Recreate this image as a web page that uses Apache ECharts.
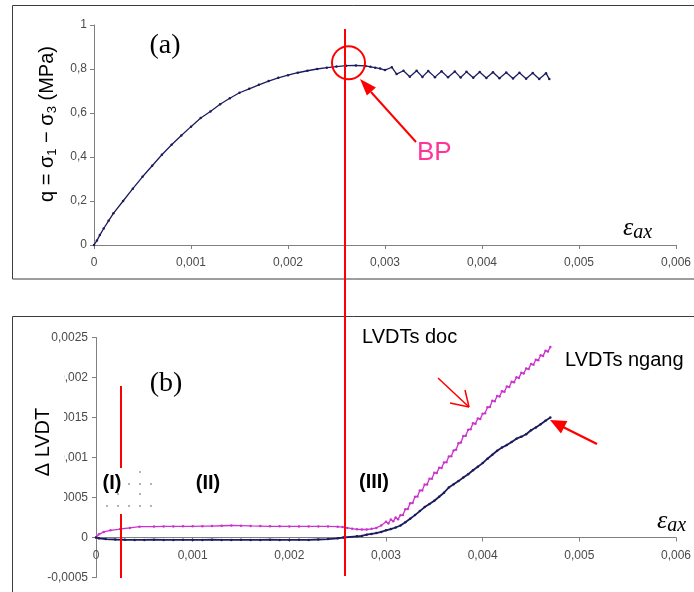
<!DOCTYPE html>
<html><head><meta charset="utf-8">
<script src="https://cdn.jsdelivr.net/npm/echarts@6/dist/echarts.min.js"></script>
<style>html,body{margin:0;padding:0;background:#fff}#c{width:694px;height:592px}</style>
</head><body><div id="c"></div>
<script>
// ---- data (a): deviatoric stress vs axial strain ----
const strainA = [0, 0.00003, 0.00006, 0.0001, 0.00015, 0.0002, 0.0003, 0.0004, 0.0005, 0.0006, 0.0007, 0.0008, 0.0009, 0.001, 0.0011, 0.0012, 0.0013, 0.0014, 0.0015, 0.0016, 0.0017, 0.0018, 0.0019, 0.002, 0.0021, 0.0022, 0.0023, 0.0024, 0.0025, 0.0026, 0.0027, 0.0028, 0.00285, 0.0029, 0.00295, 0.003, 0.00307, 0.00312, 0.00319, 0.003256, 0.003326, 0.003386, 0.003446, 0.003515, 0.003583, 0.00365, 0.00372, 0.00378, 0.00384, 0.00391, 0.003976, 0.004045, 0.004113, 0.00418, 0.00425, 0.00432, 0.004386, 0.004455, 0.004523, 0.00459, 0.00466, 0.004694];
const qA = [0, 0.02, 0.045, 0.075, 0.11, 0.144, 0.2, 0.256, 0.31, 0.36, 0.41, 0.456, 0.498, 0.538, 0.577, 0.607, 0.64, 0.667, 0.692, 0.71, 0.728, 0.745, 0.76, 0.772, 0.783, 0.792, 0.8, 0.806, 0.811, 0.815, 0.816, 0.814, 0.81, 0.806, 0.802, 0.795, 0.808, 0.777, 0.792, 0.765, 0.792, 0.764, 0.791, 0.763, 0.79, 0.762, 0.789, 0.761, 0.787, 0.76, 0.786, 0.759, 0.785, 0.758, 0.784, 0.757, 0.783, 0.756, 0.782, 0.755, 0.781, 0.754];

// ---- data (b): LVDT differences ----
const strainDoc = [0, 0.00003, 0.00008, 0.00015, 0.00025, 0.00035, 0.00045, 0.0006, 0.0007, 0.0008, 0.0009, 0.001, 0.0011, 0.0012, 0.0013, 0.0014, 0.0015, 0.0016, 0.0017, 0.0018, 0.0019, 0.002, 0.0021, 0.0022, 0.0023, 0.0024, 0.0025, 0.00255, 0.0026, 0.00265, 0.0027, 0.00275, 0.0028, 0.00285, 0.0029, 0.00295,
  0.003, 0.003025, 0.00305, 0.003075, 0.0031, 0.003125, 0.00315, 0.003175, 0.0032, 0.003225, 0.00325, 0.003275, 0.0033, 0.003325, 0.00335, 0.003375, 0.0034, 0.003425, 0.00345, 0.003475, 0.0035, 0.003525, 0.00355, 0.003575, 0.0036, 0.003625, 0.00365, 0.003675, 0.0037, 0.003725, 0.00375, 0.003775, 0.0038, 0.003825, 0.00385, 0.003875, 0.0039, 0.003925, 0.00395, 0.003975, 0.004, 0.004025, 0.00405, 0.004075, 0.0041, 0.004125, 0.00415, 0.004175, 0.0042, 0.004225, 0.00425, 0.004275, 0.0043, 0.004325, 0.00435, 0.004375, 0.0044, 0.004425, 0.00445, 0.004475, 0.0045, 0.004525, 0.00455, 0.004575, 0.0046, 0.004625, 0.00465, 0.004675, 0.0047];
const lvdtDoc = [0, 0.00004, 0.00007, 0.00009, 0.000106, 0.00012, 0.000135, 0.000137, 0.000138, 0.000138, 0.00014, 0.00014, 0.000142, 0.000143, 0.000147, 0.00015, 0.000148, 0.000145, 0.000143, 0.00014, 0.00014, 0.000138, 0.000138, 0.000138, 0.000138, 0.000138, 0.000135, 0.00013, 0.00012, 0.00011, 0.000102, 0.0001, 0.0001, 0.000108, 0.00012, 0.00015,
  0.000198, 0.000175, 0.000225, 0.000202, 0.000251, 0.000229, 0.000278, 0.00028, 0.000353, 0.000355, 0.000428, 0.000432, 0.000508, 0.000512, 0.000588, 0.000589, 0.000661, 0.000662, 0.000735, 0.000735, 0.000808, 0.000805, 0.000873, 0.00087, 0.000938, 0.00094, 0.001013, 0.001015, 0.001088, 0.001097, 0.001178, 0.001187, 0.001268, 0.001272, 0.001348, 0.001352, 0.001428, 0.001422, 0.001488, 0.001482, 0.001548, 0.001552, 0.001628, 0.001632, 0.001708, 0.001702, 0.001768, 0.001762, 0.001828, 0.001822, 0.001888, 0.001882, 0.001948, 0.00194, 0.002003, 0.001995, 0.002058, 0.00205, 0.002113, 0.002105, 0.002168, 0.00216, 0.002223, 0.002215, 0.002278, 0.00227, 0.002333, 0.002325, 0.00238];
const strainNgang = [0, 0.00003, 0.0001, 0.0002, 0.0003, 0.0004, 0.0005, 0.0006, 0.0007, 0.0008, 0.0009, 0.001, 0.0011, 0.0012, 0.0013, 0.0014, 0.0015, 0.0016, 0.0017, 0.0018, 0.0019, 0.002, 0.0021, 0.0022, 0.0023, 0.0024, 0.0025, 0.00256, 0.0027, 0.00275, 0.0028, 0.00285, 0.0029, 0.00295, 0.003, 0.00305, 0.0031, 0.00315, 0.0032, 0.00325, 0.0033, 0.00335, 0.0034, 0.00345, 0.0035, 0.00355, 0.0036, 0.00365, 0.0037, 0.00375, 0.0038, 0.00385, 0.0039, 0.00395, 0.004, 0.00405, 0.0041, 0.00415, 0.0042, 0.00425, 0.0043, 0.00435, 0.0044, 0.00445, 0.0045, 0.00455, 0.0046, 0.00465, 0.0047];
const lvdtNgang = [0, -0.00001, -0.00002, -0.000025, -0.000028, -0.00003, -0.00003, -0.000028, -0.00003, -0.00003, -0.000029, -0.00003, -0.00003, -0.000028, -0.00003, -0.00003, -0.000029, -0.00003, -0.00003, -0.000028, -0.00003, -0.00003, -0.000029, -0.00003, -0.000025, -0.00002, -0.00001, 0, 0.000015, 0.00002, 0.000035, 0.000045, 0.000055, 0.00007, 0.00009, 0.000105, 0.000125, 0.00015, 0.00019, 0.000235, 0.00028, 0.00033, 0.00038, 0.00042, 0.00046, 0.00051, 0.00056, 0.000625, 0.000665, 0.000705, 0.00075, 0.00079, 0.00084, 0.000885, 0.00093, 0.000985, 0.001035, 0.001085, 0.001125, 0.001155, 0.001195, 0.001235, 0.00126, 0.00129, 0.00134, 0.001375, 0.001415, 0.00146, 0.0015];

// ---- axis ranges / ticks ----
const xTicksA = {min: 0, max: 0.006, interval: 0.001};
const yTicksA = {min: 0, max: 1, interval: 0.2};
const xTicksB = {min: 0, max: 0.006, interval: 0.001};
const yTicksB = {min: -0.0005, max: 0.0025, interval: 0.0005};

function pairs(xs, ys) { const n = Math.min(xs.length, ys.length); const out = []; for (let i = 0; i < n; i++) out.push([xs[i], ys[i]]); return out; }
function fmt(v) { return String(+Number(v).toFixed(6)).replace('.', ','); }

const NAVY = '#1c1c5e', PINK = '#cc33cc', RED = '#ff0000';
const labelStyle = {color: '#4a4a4a', fontSize: 12, fontFamily: 'Liberation Sans, Arial, sans-serif', formatter: fmt};
const axisTick = {show: true, inside: false, length: 4, lineStyle: {color: '#808080'}};

function axisX(idx, t, off) {
  return {type: 'value', gridIndex: idx, min: t.min, max: t.max, interval: t.interval, position: 'bottom', offset: off,
    axisLine: {show: true, onZero: false, lineStyle: {color: '#808080', width: 1}}, axisTick: axisTick, splitLine: {show: false},
    axisLabel: Object.assign({margin: 12}, labelStyle)};
}
function axisY(idx, t, m) {
  return {type: 'value', gridIndex: idx, min: t.min, max: t.max, interval: t.interval,
    axisLine: {show: true, onZero: false, lineStyle: {color: '#808080', width: 1}}, axisTick: axisTick, splitLine: {show: false},
    axisLabel: Object.assign({margin: m}, labelStyle)};
}
function lineSeries(xi, data, color, w) {
  return {type: 'line', xAxisIndex: xi, yAxisIndex: xi, data: data, symbol: 'circle', symbolSize: 2.5,
    showSymbol: true, lineStyle: {color: color, width: w}, itemStyle: {color: color}, z: 5, animation: false};
}

const F = 'Liberation Sans, Arial, sans-serif';
const SERIF = 'Liberation Serif, Times New Roman, serif';
function txt(x, y, text, size, opts) {
  return Object.assign({type: 'text', x: x, y: y, z: 120, silent: true,
    style: {text: text, fontSize: size, fontFamily: F, fill: '#000', align: 'left', verticalAlign: 'middle'}}, opts || {});
}
function seg(x1, y1, x2, y2, w) {
  return {type: 'line', z: 110, silent: true, shape: {x1: x1, y1: y1, x2: x2, y2: y2}, style: {stroke: RED, lineWidth: w}};
}
function tri(pts) {
  return {type: 'polygon', z: 110, silent: true, shape: {points: pts}, style: {fill: RED}};
}
const dotPts = [[140,472],[129,484],[140,484],[151,484],[118,494],[140,494],[107,506],[118,506],[129,506],[140,506],[151,506]];
const epsRich = {e: {fontSize: 26, fontStyle: 'italic', fontFamily: SERIF, lineHeight: 30, fill: '#000'},
                 s: {fontSize: 20, fontStyle: 'italic', fontFamily: SERIF, lineHeight: 20, verticalAlign: 'bottom', fill: '#000'}};

const graphics = [
  {type: 'rect', z: 1, silent: true, shape: {x: 12.5, y: 5.5, width: 700, height: 273.5}, style: {fill: 'none', stroke: '#3c3c3c', lineWidth: 1}},
  {type: 'rect', z: 1, silent: true, shape: {x: 12.5, y: 316.5, width: 700, height: 300}, style: {fill: 'none', stroke: '#3c3c3c', lineWidth: 1}},
  // y titles
  {type: 'text', x: 47, y: 124, rotation: Math.PI / 2, z: 120, silent: true,
   style: {text: '{n|q = σ}{s|1}{n| − σ}{s|3}{n| (MPa)}', align: 'center', verticalAlign: 'middle',
     rich: {n: {fontSize: 20, fontFamily: F, lineHeight: 24, fill: '#000'},
            s: {fontSize: 13, fontFamily: F, lineHeight: 13, verticalAlign: 'bottom', fill: '#000'}}}},
  {type: 'rect', z: 100, silent: true, shape: {x: 20, y: 366, width: 44, height: 146}, style: {fill: '#fff'}},
  {type: 'text', x: 43, y: 442, rotation: Math.PI / 2, z: 120, silent: true,
   style: {text: 'Δ LVDT', fontSize: 20, fontFamily: F, fill: '#000', align: 'center', verticalAlign: 'middle'}},
  // panel tags
  txt(165, 46, '(a)', 28, {style: {text: '(a)', fontSize: 28, fontFamily: SERIF, fill: '#000', align: 'center', verticalAlign: 'middle'}}),
  txt(166, 384, '(b)', 28, {style: {text: '(b)', fontSize: 28, fontFamily: SERIF, fill: '#000', align: 'center', verticalAlign: 'middle'}}),
  // epsilon_ax labels
  {type: 'text', x: 623, y: 228, z: 120, silent: true, style: {text: '{e|ε}{s|ax}', align: 'left', verticalAlign: 'middle', rich: epsRich}},
  {type: 'text', x: 657, y: 521, z: 120, silent: true, style: {text: '{e|ε}{s|ax}', align: 'left', verticalAlign: 'middle', rich: epsRich}},
  // red vertical lines
  seg(345, 29, 345, 576, 2),
  seg(121, 386, 121, 468, 2),
  seg(121, 514, 121, 578, 2),
  // BP circle and arrow
  {type: 'circle', z: 110, silent: true, shape: {cx: 348.5, cy: 62.8, r: 16.5}, style: {fill: 'none', stroke: RED, lineWidth: 2}},
  seg(416, 142, 371, 92, 2),
  tri([[360, 79], [375.9, 87.6], [366.9, 95.6]]),
  txt(417, 153, 'BP', 26, {style: {text: 'BP', fontSize: 26, fontFamily: F, fill: '#ff3399', align: 'left', verticalAlign: 'middle'}}),
  // LVDT labels and arrows
  txt(362, 337, 'LVDTs doc', 20),
  txt(565, 360, 'LVDTs ngang', 20),
  seg(438, 378, 469, 407, 1.5),
  seg(469, 407, 450, 403, 1.5),
  seg(469, 407, 465, 390, 1.5),
  seg(597, 444, 563, 427, 2.5),
  tri([[550, 420], [567.4, 421.1], [561.0, 433.5]]),
  // phase labels
  txt(112, 483, '(I)', 20, {style: {text: '(I)', fontSize: 20, fontWeight: 'bold', fontFamily: F, fill: '#000', align: 'center', verticalAlign: 'middle'}}),
  txt(208, 483, '(II)', 20, {style: {text: '(II)', fontSize: 20, fontWeight: 'bold', fontFamily: F, fill: '#000', align: 'center', verticalAlign: 'middle'}}),
  txt(374, 482, '(III)', 20, {style: {text: '(III)', fontSize: 20, fontWeight: 'bold', fontFamily: F, fill: '#000', align: 'center', verticalAlign: 'middle'}})
];
dotPts.forEach(p => graphics.push({type: 'circle', z: 120, silent: true, shape: {cx: p[0], cy: p[1], r: 0.8}, style: {fill: '#555'}}));

const chart = echarts.init(document.getElementById('c'), null, {renderer: 'canvas'});
chart.setOption({
  animation: false,
  backgroundColor: '#fff',
  grid: [
    {left: 94, top: 25, width: 585, height: 220},
    {left: 96, top: 337.5, width: 584, height: 240}
  ],
  xAxis: [axisX(0, xTicksA, 0), axisX(1, xTicksB, -40)],
  yAxis: [axisY(0, yTicksA, 7), axisY(1, yTicksB, 8)],
  series: [
    lineSeries(0, pairs(strainA, qA), NAVY, 1.3),
    lineSeries(1, pairs(strainDoc, lvdtDoc), PINK, 1.3),
    lineSeries(1, pairs(strainNgang, lvdtNgang), NAVY, 1.8)
  ],
  graphic: graphics
});
</script></body></html>
